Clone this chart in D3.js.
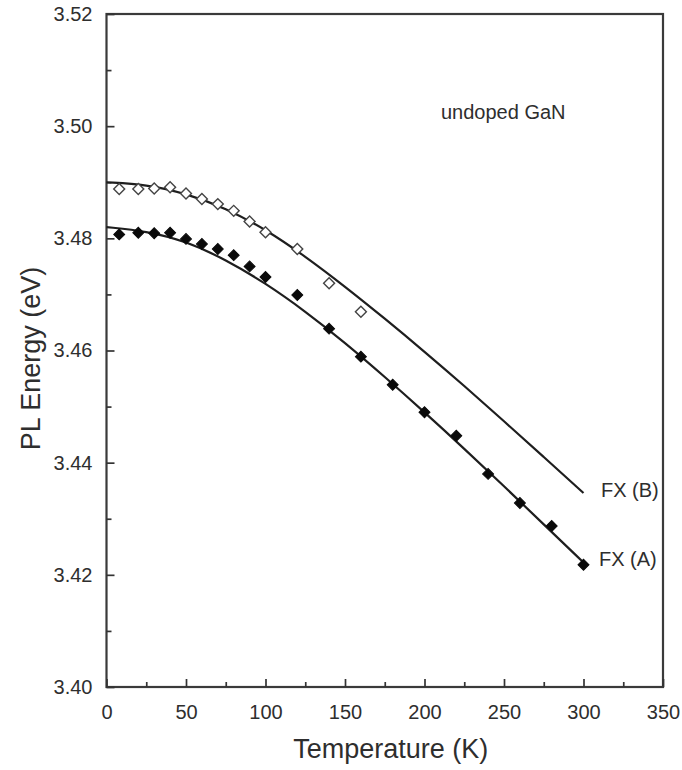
<!DOCTYPE html>
<html><head><meta charset="utf-8">
<script src="https://cdn.jsdelivr.net/npm/d3@7"></script>
<style>body{margin:0;background:#fff}svg{display:block}text{font-family:"Liberation Sans",Arial,sans-serif;fill:#2e2e2e}</style>
</head><body><svg id="c" width="682" height="770"></svg>
<script>
// measured points
const tempsB = [8,20,30,40,50,60,70,80,90,100,120,140,160];
const energyB = [3.4888,3.4888,3.4889,3.4891,3.4880,3.4870,3.4861,3.4849,3.4830,3.4811,3.4781,3.4720,3.4669];
const tempsA = [8,20,30,40,50,60,70,80,90,100,120,140,160,180,200,220,240,260,280,300];
const energyA = [3.4807,3.4810,3.4809,3.4810,3.4799,3.4790,3.4781,3.4770,3.4750,3.4731,3.4699,3.4639,3.4589,3.4539,3.4490,3.4448,3.4380,3.4328,3.4287,3.4218];
// fit curves
const fitT = [0,25,50,75,100,125,150,175,200,225,250,275,300];
const fitA = [3.4820,3.4813,3.4795,3.4762,3.4720,3.4670,3.4614,3.4553,3.4490,3.4425,3.4358,3.4290,3.4222];
const fitB = [3.4900,3.4896,3.4880,3.4854,3.4816,3.4768,3.4714,3.4657,3.4598,3.4537,3.4474,3.4410,3.4346];
const xTicks = [0,50,100,150,200,250,300,350];
const yTicks = [3.40,3.42,3.44,3.46,3.48,3.50,3.52];
const curveLabels = ["FX (B)","FX (A)"];

const svg = d3.select("#c");
const L=106.5,R=663,T=14,B=687;
const x = d3.scaleLinear().domain([0,350]).range([L,R]);
const y = d3.scaleLinear().domain([3.40,3.52]).range([B,T]);
const ink="#1e1e1e";

// frame
svg.append("rect").attr("x",L).attr("y",T).attr("width",R-L).attr("height",B-T)
  .attr("fill","none").attr("stroke","#3a3a3a").attr("stroke-width",2.2);

// axes with inward ticks
const xa = svg.append("g").attr("transform",`translate(0,${B})`)
  .call(d3.axisBottom(x).tickValues(xTicks).tickSize(-8).tickPadding(18).tickFormat(d3.format("d")));
svg.append("g").attr("transform",`translate(0,${B})`)
  .call(d3.axisBottom(x).tickValues(d3.range(25,350,50)).tickSize(-5).tickFormat(""));
const ya = svg.append("g").attr("transform",`translate(${L},0)`)
  .call(d3.axisLeft(y).tickValues(yTicks).tickSize(-8).tickPadding(14).tickFormat(d3.format(".2f")));
svg.append("g").attr("transform",`translate(${L},0)`)
  .call(d3.axisLeft(y).tickValues(d3.range(3.41,3.52,0.02)).tickSize(-5).tickFormat(""));
svg.selectAll(".domain").remove();
svg.selectAll(".tick line").attr("stroke","#333").attr("stroke-width",1.7);
xa.selectAll("text").attr("font-size",20).attr("fill","#2e2e2e");
ya.selectAll("text").attr("font-size",20).attr("fill","#2e2e2e");

// fit lines
const line = d3.line().x(d=>x(d[0])).y(d=>y(d[1])).curve(d3.curveBasis);
[fitB,fitA].forEach(f=>{
  svg.append("path").datum(fitT.map((t,i)=>[t,f[i]])).attr("d",line)
    .attr("fill","none").attr("stroke",ink).attr("stroke-width",2.2);
});

// markers
const diamond = d3.symbol().type(d3.symbolSquare).size(60);
svg.append("g").selectAll("path").data(tempsB.map((t,i)=>[t,energyB[i]])).join("path")
  .attr("d",diamond).attr("transform",d=>`translate(${x(d[0])},${y(d[1])}) rotate(45)`)
  .attr("fill","#fff").attr("stroke","#444").attr("stroke-width",1.4);
svg.append("g").selectAll("path").data(tempsA.map((t,i)=>[t,energyA[i]])).join("path")
  .attr("d",diamond).attr("transform",d=>`translate(${x(d[0])},${y(d[1])}) rotate(45)`)
  .attr("fill","#0a0a0a").attr("stroke","#0a0a0a").attr("stroke-width",1);

// curve labels
svg.append("text").attr("x",601).attr("y",y(3.4346)+4).attr("font-size",20).text(curveLabels[0]);
svg.append("text").attr("x",599).attr("y",y(3.4222)+4).attr("font-size",20).text(curveLabels[1]);

// annotation
svg.append("text").attr("x",441).attr("y",119).attr("font-size",20).text("undoped GaN");

// axis titles
svg.append("text").attr("x",(L+R)/2+6).attr("y",758).attr("text-anchor","middle").attr("font-size",27).text("Temperature (K)");
svg.append("text").attr("transform",`translate(40,${(T+B)/2+8}) rotate(-90)`).attr("text-anchor","middle").attr("font-size",27).text("PL Energy (eV)");
</script></body></html>
